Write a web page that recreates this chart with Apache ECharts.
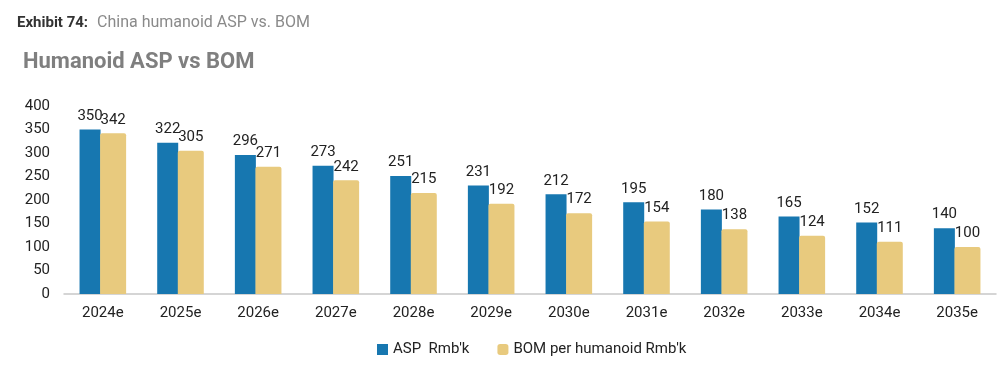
<!DOCTYPE html>
<html><head><meta charset="utf-8">
<script src="https://cdn.jsdelivr.net/npm/echarts@6/dist/echarts.min.js"></script>
<style>html,body{margin:0;padding:0;background:#fff;}#c{width:999px;height:368px;}</style>
</head><body><div id="c"></div>
<script>
const categories = ['2024e','2025e','2026e','2027e','2028e','2029e','2030e','2031e','2032e','2033e','2034e','2035e'];
const aspValues = [350,322,296,273,251,231,212,195,180,165,152,140];
const bomValues = [342,305,271,242,215,192,172,154,138,124,111,100];
const seriesNames = ["ASP  Rmb'k", "BOM per humanoid Rmb'k"];
const yTicks = {min:0, max:400, interval:50};

const chart = echarts.init(document.getElementById('c'));
const font = 'Roboto, "Liberation Sans", sans-serif';
chart.setOption({
  animation:false,
  textStyle:{fontFamily:font},
  title:[
    {text:'{b|Exhibit 74:}  {n|China humanoid ASP vs. BOM}', left:12, top:9,
     textStyle:{fontWeight:'normal',rich:{b:{fontSize:15,fontWeight:'bold',color:'#333',fontFamily:font},n:{fontSize:16,fontWeight:'normal',color:'#8a8a8a',fontFamily:font}}}},
    {text:'Humanoid ASP vs BOM', left:18, top:46, textStyle:{fontSize:22,fontWeight:'bold',color:'#7f7f7f',fontFamily:font}}
  ],
  legend:{bottom:6, left:372, itemWidth:11, itemHeight:11, itemGap:28,
    textStyle:{fontSize:15,color:'#222',fontFamily:font},
    data:[{name:seriesNames[0],icon:'rect'},{name:seriesNames[1],icon:'roundRect'}]},
  grid:{left:64, right:3, top:106, bottom:74},
  xAxis:{type:'category', data:categories,
    axisLine:{lineStyle:{color:'#c8c8c8',width:1.5}}, axisTick:{show:false},
    axisLabel:{fontSize:15,color:'#222',margin:12,fontFamily:font}},
  yAxis:{type:'value', min:yTicks.min, max:yTicks.max, interval:yTicks.interval,
    splitLine:{show:false}, axisLine:{show:false}, axisTick:{show:false},
    axisLabel:{fontSize:15,color:'#222',margin:14,fontFamily:font}},
  series:[
    {name:seriesNames[0], type:'bar', data:aspValues, barWidth:21, barGap:'-2%',
     itemStyle:{color:'#1777b0'},
     label:{show:true,position:'top',fontSize:15,color:'#222',distance:6,fontFamily:font}},
    {name:seriesNames[1], type:'bar', data:bomValues, barWidth:26,
     itemStyle:{color:'#e8ca7e',borderRadius:[2,2,0,0]},
     label:{show:true,position:'top',fontSize:15,color:'#222',distance:6,fontFamily:font}}
  ]
});
</script></body></html>
